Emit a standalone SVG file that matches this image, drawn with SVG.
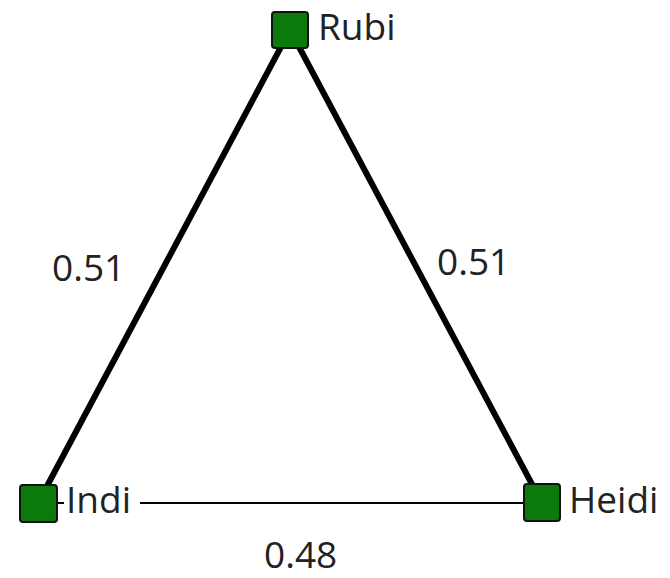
<svg xmlns="http://www.w3.org/2000/svg" width="670" height="578" viewBox="0 0 670 578">
<style>
.node{fill:#0a7a0a;stroke:#111;stroke-width:2}
.lbl{font-family:"Open Sans","Noto Sans",sans-serif;font-size:37px;fill:#222}
.thick{stroke:#000;stroke-width:6;fill:none}
.thin{stroke:#000;stroke-width:2;fill:none}
</style>
<rect width="670" height="578" fill="#fff"/>
<g id="connectors">
<line class="thick" x1="290" y1="30" x2="38" y2="503"/>
<line class="thick" x1="290" y1="30" x2="542" y2="503"/>
<line class="thin" x1="38" y1="503" x2="542" y2="503"/>
<rect x="64" y="480" width="76" height="40" fill="#fff"/>
<text class="lbl" x="52" y="281">0.51</text>
<text class="lbl" x="437" y="275">0.51</text>
<text class="lbl" x="264" y="568">0.48</text>
</g>
<g id="rubi"><rect class="node" x="272" y="12" width="36" height="36" rx="3"/><text class="lbl" x="318" y="40">Rubi</text></g>
<g id="indi"><rect class="node" x="20" y="485" width="37" height="37" rx="3"/><text class="lbl" x="66" y="513">Indi</text></g>
<g id="heidi"><rect class="node" x="524" y="484" width="36" height="37" rx="3"/><text class="lbl" x="569" y="513">Heidi</text></g>
</svg>
